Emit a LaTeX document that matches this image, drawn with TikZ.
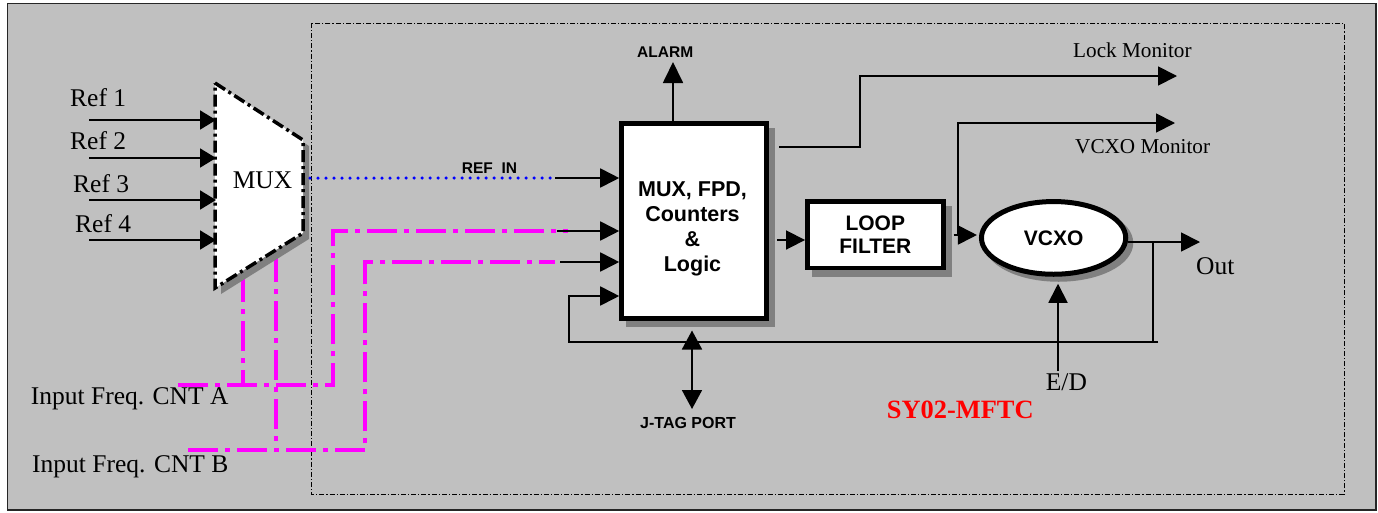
\documentclass[tikz,border=0pt]{standalone}
\usepackage{fontspec}
\setmainfont{Liberation Serif}
\setsansfont{Liberation Sans}
\usetikzlibrary{arrows.meta,shapes.geometric,shadows}
\definecolor{bggray}{HTML}{C0C0C0}
\definecolor{shgray}{HTML}{808080}
\definecolor{mag}{HTML}{FF00FF}
\definecolor{dblue}{HTML}{0000FF}
\definecolor{sred}{HTML}{FF0000}
\tikzset{
  conn/.style={line width=1.8pt, -{Triangle[length=19pt,width=19pt]}},
  refconn/.style={line width=1.8pt, -{Triangle[length=16pt,width=19pt]}},
  wire/.style={line width=1.8pt},
  magline/.style={draw=mag,line width=4pt,dash pattern=on 30pt off 7pt on 5pt off 7pt},
  serlbl/.style={inner sep=0pt,anchor=base west,font=\fontsize{25.5}{28}\selectfont},
  monlbl/.style={inner sep=0pt,anchor=base west,font=\fontsize{21.2}{24}\selectfont},
  sblbl/.style={inner sep=0pt,anchor=base west,font=\sffamily\bfseries\fontsize{15.5}{18}\selectfont},
  blockfont/.style={font=\sffamily\bfseries\fontsize{21}{23.5}\selectfont},
  shadowed/.style={drop shadow={shadow xshift=6.5pt,shadow yshift=-6.5pt,fill=shgray,draw=shgray,line width=4.5pt,opacity=1}},
  blockbox/.style={draw=black,fill=white,line width=5pt,inner sep=0pt,shadowed},
}
\begin{document}
\begin{tikzpicture}[x=1pt,y=-1pt]
\useasboundingbox (0,0) rectangle (1378,512);
\fill[white] (0,0) rectangle (1378,512);
\draw[fill=bggray,draw=black!85,line width=1.5pt] (7.5,3.5) rectangle (1376,510);
\draw[line width=0.9pt,dash pattern=on 5pt off 2pt on 1.2pt off 2pt] (311,23) rectangle (1344,494);

% magenta counter lines
\draw[magline] (178,385) -- (333,385) -- (333,231) -- (568,231);
\draw[magline] (243,272) -- (243,385);
\draw[magline] (188,450) -- (365,450) -- (365,262) -- (555,262);
\draw[magline] (276,252) -- (276,450);

% MUX trapezoid
\coordinate (mtl) at (215,83);
\coordinate (mtr) at (303,140);
\coordinate (mbr) at (303,233);
\coordinate (mbl) at (215,288);
\fill[shgray] ([shift={(6,6)}]mtl) -- ([shift={(6,6)}]mtr) -- ([shift={(6,6)}]mbr) -- ([shift={(6,6)}]mbl) -- cycle;
\draw[fill=white,line width=3.5pt,dash pattern=on 12pt off 4pt on 3pt off 4pt] (mtl) -- (mtr) -- (mbr) -- (mbl) -- cycle;
\node[serlbl,anchor=base] (muxlbl) at (262.5,188) {MUX};

% Ref inputs
\node[serlbl] (ref1) at (70,106) {Ref 1};
\node[serlbl] (ref2) at (70,149) {Ref 2};
\node[serlbl] (ref3) at (73,192) {Ref 3};
\node[serlbl] (ref4) at (75,232) {Ref 4};
\foreach \i/\y in {1/120,2/158,3/200,4/240}{
  \coordinate (rs\i) at (89,\y);
  \coordinate (re\i) at (216,\y);
  \draw[refconn] (rs\i) -- (re\i);
}

% main block
\node[blockbox,minimum width=145pt,minimum height=195pt] (main) at (694.2,221) {};
\node[font=\sffamily\bfseries\fontsize{21.5}{25.2}\selectfont,align=center,inner sep=0pt] (mainlbl) at (692.5,229) {MUX, FPD,\\Counters\\\&\\Logic};

% REF_IN
\coordinate (muxout) at (310,178);
\coordinate (refin) at (555,178);
\draw[dblue,line width=3.5pt,line cap=round,dash pattern=on 0pt off 8pt] (muxout) -- (refin);
\draw[conn] (refin) -- (refin -| main.west);
\node[sblbl] (refinlbl) at (461.7,173.3) {REF~\hspace{0.28em}IN};

% counter inputs
\coordinate (in2) at (557,231);
\draw[conn] (in2) -- (in2 -| main.west);
\coordinate (in3) at (560,262);
\draw[conn] (in3) -- (in3 -| main.west);

% feedback loop
\coordinate (fbtap) at (1153,242);
\coordinate (fbend) at (1158,342);
\coordinate (fbl) at (569,342);
\coordinate (fbin) at (569,296);
\draw[wire] (fbend) -- (fbtap |- fbl);
\draw[conn] (fbtap) -- (fbtap |- fbl) -- (fbl) -- (fbin) -- (fbin -| main.west);

% ALARM
\coordinate (alarmtip) at (673,62);
\draw[line width=1.8pt,-{Triangle[length=21pt,width=20pt]}] (alarmtip |- main.north) -- (alarmtip);
\node[sblbl] (alarm) at (637,57.3) {ALARM};

% J-TAG
\coordinate (jtag) at (692,409);
\draw[line width=1.8pt,{Triangle[length=19pt,width=20pt]}-{Triangle[length=19pt,width=20pt]},shorten <=9.5pt] (jtag |- main.south) -- (jtag);
\node[sblbl,font=\sffamily\bfseries\fontsize{16}{18}\selectfont] (jtaglbl) at (640,428.3) {J-TAG PORT};

% Loop filter
\node[blockbox,line width=4.5pt,minimum width=136pt,minimum height=66.5pt,blockfont,align=center] (loop) at (875.3,234.5) {LOOP\\FILTER};
\coordinate (lf) at (790,240);
\draw[conn,shorten <=8pt] (lf -| main.east) -- (lf -| loop.west);

% VCXO
\node[ellipse,draw=black,fill=white,line width=5pt,minimum width=144.3pt,minimum height=72.7pt,inner sep=0pt,
  drop shadow={shadow xshift=5pt,shadow yshift=-5pt,fill=shgray,draw=shgray,line width=5pt,opacity=1},blockfont] (vcxo) at (1053.6,237.9) {VCXO};
\coordinate (lv) at (958,235);
\draw[conn,shorten <=8pt,shorten >=2pt] (lv -| loop.east) -- (lv -| vcxo.west);

% Lock monitor
\coordinate (lm1) at (860,147);
\coordinate (lm2) at (860,76);
\coordinate (lmtip) at (1177,76);
\draw[conn,shorten <=10pt] (lm1 -| main.east) -- (lm1) -- (lm2) -- (lmtip);
\node[monlbl] (lmlbl) at (1073,57.3) {Lock Monitor};

% VCXO monitor
\coordinate (vm2) at (958,123);
\coordinate (vmtip) at (1175,123);
\draw[conn] (lv) -- (vm2) -- (vmtip);
\node[monlbl] (vmlbl) at (1075,153.3) {VCXO Monitor};

% Out
\coordinate (outtip) at (1200,242);
\draw[conn] (outtip -| vcxo.east) -- (outtip);
\node[serlbl] (outlbl) at (1196,274.3) {Out};

% E/D
\coordinate (edb) at (1058,371);
\draw[conn,shorten >=7pt] (edb) -- (edb |- vcxo.south);
\node[serlbl] (edlbl) at (1045.7,390.7) {E/D};

% title
\node[inner sep=0pt,anchor=base west,text=sred,font=\bfseries\fontsize{26.4}{30}\selectfont] (title) at (886.7,418.3) {SY02-MFTC};

% counter labels
\node[serlbl] (cnta) at (30.7,404) {Input Freq. CNT A};
\node[serlbl] (cntb) at (32,472.7) {Input Freq. CNT B};
\end{tikzpicture}
\end{document}
